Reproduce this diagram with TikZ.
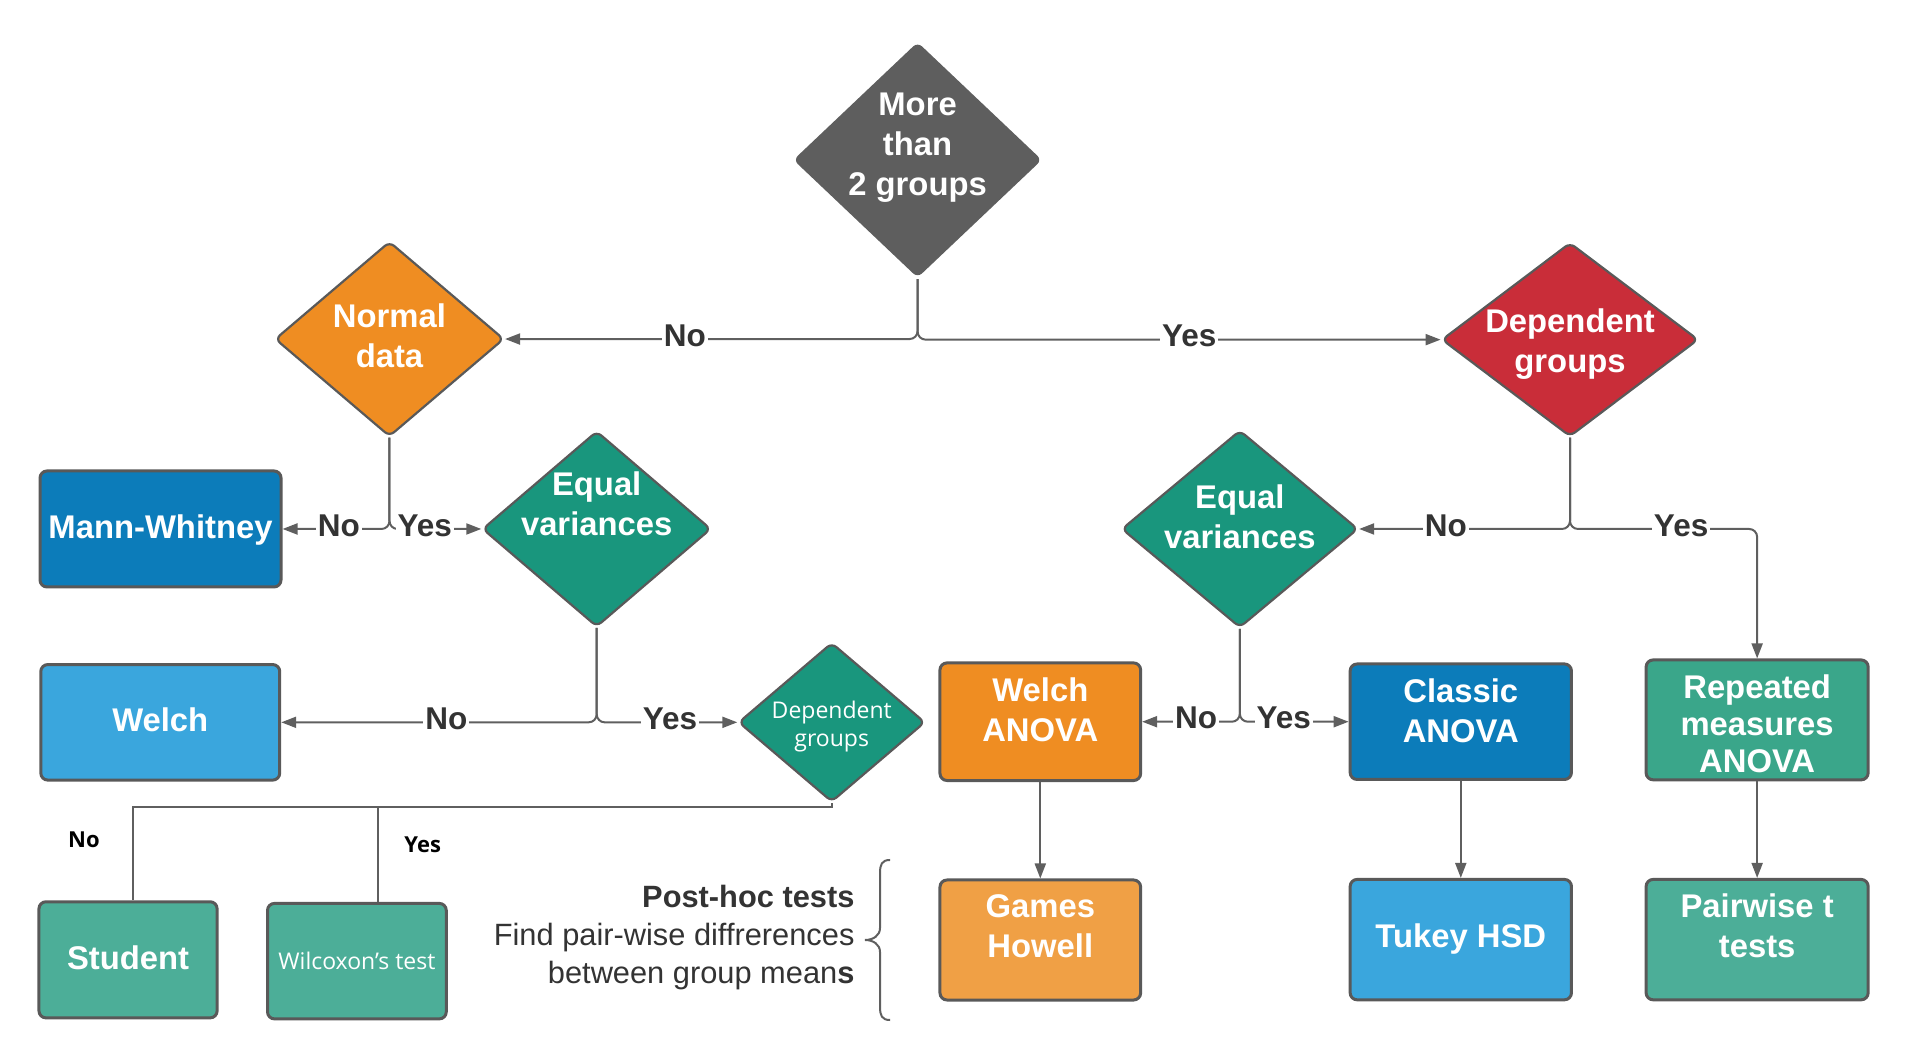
\documentclass[tikz,border=0pt]{standalone}
\usepackage{fontspec}
\setmainfont{Liberation Sans}
\newfontfamily\osans{Open Sans}
\usetikzlibrary{arrows.meta,shapes.geometric,calc}
\definecolor{cgray}{HTML}{5E5E5E}
\definecolor{corange}{HTML}{EF8D22}
\definecolor{corangeL}{HTML}{F0A045}
\definecolor{cred}{HTML}{C92D39}
\definecolor{cteal}{HTML}{19967D}
\definecolor{cdblue}{HTML}{0C7CBA}
\definecolor{clblue}{HTML}{3AA6DD}
\definecolor{crep}{HTML}{3AA68A}
\definecolor{cgreen}{HTML}{4CAE98}
\definecolor{cborder}{HTML}{595959}
\definecolor{cline}{HTML}{5F5F5F}
\definecolor{ctext}{HTML}{333333}
\begin{document}
\begin{tikzpicture}[x=0.608pt,y=-0.608pt,
  dia/.style 2 args={diamond, minimum width=#1*0.608pt, minimum height=#2*0.608pt,
    inner sep=0pt, rounded corners=3pt, draw=cborder, line width=1.1pt},
  box/.style 2 args={rectangle, minimum width=#1*0.608pt, minimum height=#2*0.608pt,
    inner sep=0pt, rounded corners=3.5pt, draw=cborder, line width=1.5pt},
  ntxt/.style={text=white, align=center, inner sep=0pt, yshift=-1.5pt,
    font=\fontsize{16.4}{20}\selectfont\bfseries,
    execute at begin node=\strut, execute at end node=\strut},
  stxt/.style={text=white, align=center, inner sep=0pt, yshift=-0.9pt,
    font=\osans\fontsize{11.5}{13.7}\selectfont,
    execute at begin node=\strut, execute at end node=\strut},
  conn/.style={draw=cline, line width=1pt, rounded corners=4pt,
    -{Triangle[length=7.5pt,width=5.5pt]}},
  plain/.style={draw=cline, line width=1pt},
  elbl/.style={fill=white, text=ctext, inner sep=1pt,
    font=\fontsize{15.75}{18}\selectfont\bfseries},
  slbl/.style={text=black, inner sep=0pt, font=\osans\fontsize{11}{13}\selectfont\bfseries}
]
\useasboundingbox (0,0) rectangle (1566.6,871.7);

% ---------- decision diamonds ----------
\node[dia={205}{194.3}, fill=cgray, draw=none] (q1) at (754.6,131.5) {};
\node[ntxt] (q1t) at (754.6,121) {More\\than\\2 groups};

\node[dia={188.3}{160.4}, fill=corange] (nd) at (320.3,278.8) {};
\node[ntxt] (ndt) at (320.3,278.8) {Normal\\data};

\node[dia={211}{159.5}, fill=cred] (rd) at (1291.1,279.3) {};
\node[ntxt] (rdt) at (1291.1,282.7) {Dependent\\groups};

\node[dia={188}{161}, fill=cteal] (ev1) at (490.7,435) {};
\node[ntxt] (ev1t) at (490.7,417) {Equal\\variances};

\node[dia={194.4}{162.3}, fill=cteal] (ev2) at (1019.6,435) {};
\node[ntxt] (ev2t) at (1019.6,427) {Equal\\variances};

\node[dia={153.5}{131}, fill=cteal] (sd) at (684,594) {};
\node[stxt] (sdt) at (684,597) {Dependent\\groups};

% ---------- result boxes ----------
\node[box={198.2}{95.4}, fill=cdblue] (mw) at (132,435) {};
\node[ntxt] (mwt) at (132,433.4) {Mann-Whitney};

\node[box={196.5}{95}, fill=clblue] (welch) at (131.8,594) {};
\node[ntxt] (welcht) at (131.8,592.1) {Welch};

\node[box={165}{96.7}, fill=corange] (wa) at (855.5,593.5) {};
\node[ntxt] (wat) at (855.5,586.1) {Welch\\ANOVA};

\node[box={182}{95}, fill=cdblue] (ca) at (1201.3,593.5) {};
\node[ntxt] (cat) at (1201.3,586.9) {Classic\\ANOVA};

\node[box={182.6}{98.6}, fill=crep] (rep) at (1445,592) {};
\node[ntxt, font=\fontsize{16.4}{18.5}\selectfont\bfseries] (rept) at (1445,597.3) {Repeated\\measures\\ANOVA};

\node[box={165}{98.7}, fill=corangeL] (gh) at (855.5,773) {};
\node[ntxt] (ght) at (855.5,763.8) {Games\\Howell};

\node[box={182}{99}, fill=clblue] (tk) at (1201.3,772.7) {};
\node[ntxt] (tkt) at (1201.3,770.5) {Tukey HSD};

\node[box={182.6}{99}, fill=cgreen] (pw) at (1445,772.7) {};
\node[ntxt] (pwt) at (1445,764) {Pairwise t\\tests};

\node[box={146.5}{95.5}, fill=cgreen] (stu) at (105.3,789.3) {};
\node[ntxt] (stut) at (105.3,788) {Student};

\node[box={147}{95}, fill=cgreen] (wil) at (293.5,790.4) {};
\node[stxt] (wilt) at (293.5,791) {Wilcoxon’s test};

% ---------- connectors ----------
\draw[conn] (q1.south) |- (nd.east);
\draw[conn] (q1.south) |- (rd.west);
\node[elbl] (l1) at (563.3,276) {No};
\node[elbl] (l2) at (978,276) {Yes};

\draw[conn] (nd.south) |- (mw.east);
\draw[conn] (nd.south) |- (ev1.west);
\node[elbl] (l3) at (278.6,432) {No};
\node[elbl] (l4) at (349.3,432) {Yes};

\draw[conn] (ev1.south) |- (welch.east);
\draw[conn] (ev1.south) |- (sd.west);
\node[elbl] (l5) at (367,591) {No};
\node[elbl] (l6) at (551,591) {Yes};

\draw[conn] (rd.south) |- (ev2.east);
\draw[conn] (rd.south) -- (rd.south |- ev2.east) -| (rep.north);
\node[elbl] (l7) at (1189,432) {No};
\node[elbl] (l8) at (1382.5,432) {Yes};

\draw[conn] (ev2.south) |- (wa.east);
\draw[conn] (ev2.south) |- (ca.west);
\node[elbl] (l9) at (983.7,590.5) {No};
\node[elbl] (l10) at (1055.7,590.5) {Yes};

\draw[conn] (wa.south) -- (gh.north);
\draw[conn] (ca.south) -- (tk.north);
\draw[conn] (rep.south) -- (pw.north);

\coordinate (bus) at (0,664);
\coordinate (stop) at ($(stu.north)+(4.1,0)$);
\coordinate (wtop) at ($(wil.north)+(17.1,0)$);
\draw[plain] (sd.south) -- (sd.south |- bus) -| (stop);
\draw[plain] (wtop) -- (wtop |- bus);
\node[slbl] (sno) at (69,690.8) {No};
\node[slbl] (syes) at (347.6,695) {Yes};

% ---------- post-hoc note ----------
\node[anchor=north east, align=right, inner sep=0pt, text=ctext,
  font=\fontsize{15.4}{19}\selectfont,
  execute at begin node=\strut, execute at end node=\strut] (note) at (703,728)
  {\textbf{Post-hoc tests}\\Find pair-wise diffrerences\\between group mean\textbf{s}};
\draw[cline, line width=1pt] (732,707.2) .. controls (725,707.2) and (723.7,711) .. (723.7,718)
  -- (723.7,763) .. controls (723.7,769.5) and (718,773) .. (711.3,773)
  .. controls (718,773) and (723.7,776.5) .. (723.7,783)
  -- (723.7,828) .. controls (723.7,835) and (725,838.8) .. (732,838.8);
\end{tikzpicture}
\end{document}
